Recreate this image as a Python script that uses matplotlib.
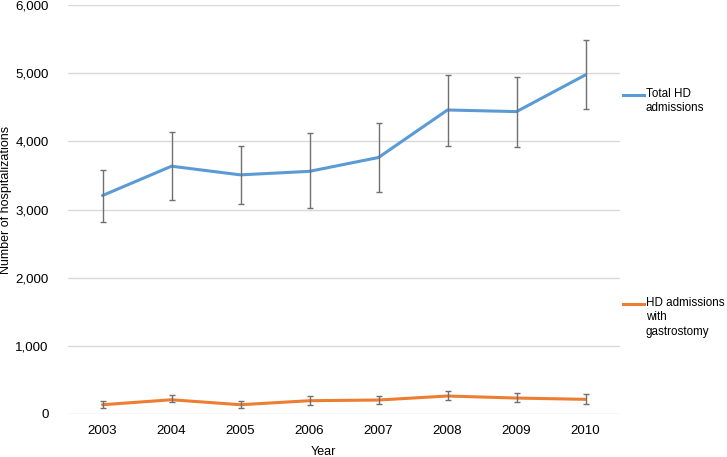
import matplotlib
matplotlib.use('Agg')
import matplotlib.pyplot as plt
import matplotlib.ticker as ticker
from matplotlib.lines import Line2D

plt.rcParams['font.family'] = ['Liberation Sans', 'DejaVu Sans']

years = ['2003', '2004', '2005', '2006', '2007', '2008', '2009', '2010']

# Total HD admissions
total = [3205, 3635, 3508, 3560, 3763, 4460, 4436, 4975]
total_hi = [3580, 4135, 3935, 4115, 4275, 4978, 4943, 5480]
total_lo = [2820, 3135, 3085, 3015, 3250, 3938, 3924, 4470]

# HD admissions with gastrostomy
gastro = [136, 209, 136, 195, 205, 264, 234, 215]
gastro_hi = [185, 272, 185, 259, 268, 332, 302, 287]
gastro_lo = [85, 170, 87, 136, 141, 200, 170, 151]

blue = '#5b9bd5'
orange = '#ed7d31'
errc = '#707070'

fig = plt.figure(figsize=(7.27, 4.57), dpi=100)
ax = fig.add_axes([68 / 727, 1 - 414 / 457, 552 / 727, 409 / 457])

x = list(range(len(years)))

def draw(vals, hi, lo, color):
    ax.plot(x, vals, color=color, lw=2.2, zorder=3, solid_capstyle='round')
    yerr = [[v - l for v, l in zip(vals, lo)], [h - v for v, h in zip(vals, hi)]]
    ax.errorbar(x, vals, yerr=yerr, fmt='none', ecolor=errc, elinewidth=1.0,
                capsize=2.5, capthick=1.0, zorder=4)

draw(total, total_hi, total_lo, blue)
draw(gastro, gastro_hi, gastro_lo, orange)

ax.set_xlim(-0.5, len(years) - 0.5)
ax.set_ylim(0, 6000)
ax.set_yticks(range(0, 6001, 1000))
ax.yaxis.set_major_formatter(ticker.FuncFormatter(lambda v, p: '{:,.0f}'.format(v)))
ax.set_xticks(x)
ax.set_xticklabels(years)
ax.grid(axis='y', color='#d9d9d9', lw=1.0)
ax.set_axisbelow(True)
for s in ax.spines.values():
    s.set_visible(False)
ax.tick_params(length=0, labelsize=9.6, colors='black', pad=8)
ax.tick_params(axis='y', pad=14)

fig.text(6 / 727, 1 - 200 / 457, 'Number of hospitalizations', rotation=90,
         ha='center', va='center', fontsize=9)
fig.text(323 / 727, 1 - 452 / 457, 'Year', ha='center', va='center', fontsize=9)

# legend entries beside the plot
for ly, label, color in [(95, 'Total HD\nadmissions', blue),
                         (304, 'HD admissions\nwith\ngastrostomy', orange)]:
    fig.add_artist(Line2D([623 / 727, 644 / 727], [1 - ly / 457, 1 - ly / 457],
                          transform=fig.transFigure, color=color, lw=2.2))
    fig.text(646 / 727, 1 - (ly - 7) / 457, label, ha='left', va='top',
             fontsize=8.4, linespacing=1.25)

fig.savefig('out.png', dpi=100)
